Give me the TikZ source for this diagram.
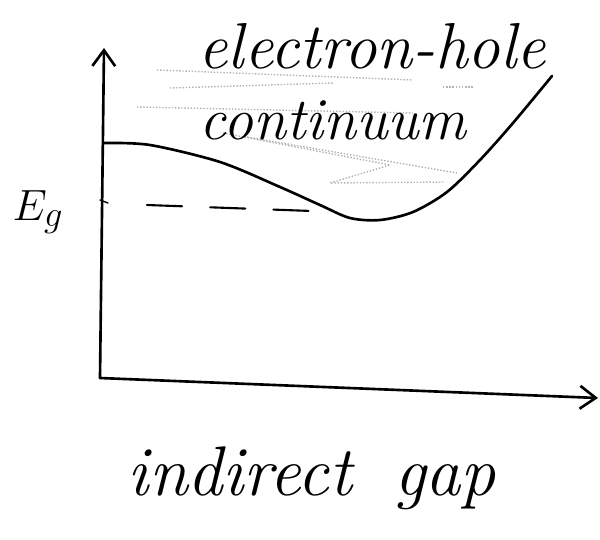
\documentclass[tikz,border=0pt]{standalone}
\usetikzlibrary{arrows.meta}
\begin{document}
\begin{tikzpicture}[x=0.02cm,y=-0.02cm,
  ink/.style={line width=1.5pt,line cap=round,line join=round},
  hatch/.style={gray!60,line width=0.8pt,densely dotted},
  hand/.style={font=\itshape\fontsize{#1}{#1}\selectfont,inner sep=0pt},
  axisarrow/.style={ink,-{Straight Barb[length=9pt,width=13pt,line width=1.5pt]}}]
\useasboundingbox (0,0) rectangle (600,539);
% axes
\coordinate (origin) at (100,378);
\coordinate (ytop) at (104,48);
\coordinate (xend) at (598,398);
\draw[axisarrow] (origin) -- (ytop);
\draw[axisarrow] (origin) -- (xend);
% tick
\coordinate (tickA) at (100,200);
\coordinate (tickB) at (108,203);
\draw[ink,line width=0.8pt] (tickA) -- (tickB);
% band-edge curve
\draw[ink] plot[smooth,tension=0.5] coordinates {(104,143) (150,145) (220,162) (280,187) (320,205) (350,218) (380,220) (413,212) (447,192) (480,160) (513,123) (552,76)};
% dashed Eg level
\coordinate (dashA) at (147,205);
\coordinate (dashB) at (312,211);
\draw[ink,line width=1.2pt,dash pattern=on 20pt off 16pt] (dashA) -- (dashB);
% faint hatching for the continuum
\draw[hatch] (157,70) -- (413,80);
\draw[hatch] (443,87) -- (473,87);
\draw[hatch] (170,88) -- (333,83);
\draw[hatch] (137,107) -- (413,113);
\draw[hatch] (223,133) -- (390,165) -- (330,183) -- (445,182);
\draw[hatch] (247,137) -- (457,173);
% labels
\node[hand=37] (eh) at (372,46) {electron-hole};
\node[hand=34] (cont) at (333,120) {continuum};
\node[hand=30] (eg) at (38,212) {$E_g$};
\node[hand=40] (ig) at (312,478) {indirect\hspace{0.6em}gap};
\end{tikzpicture}
\end{document}
